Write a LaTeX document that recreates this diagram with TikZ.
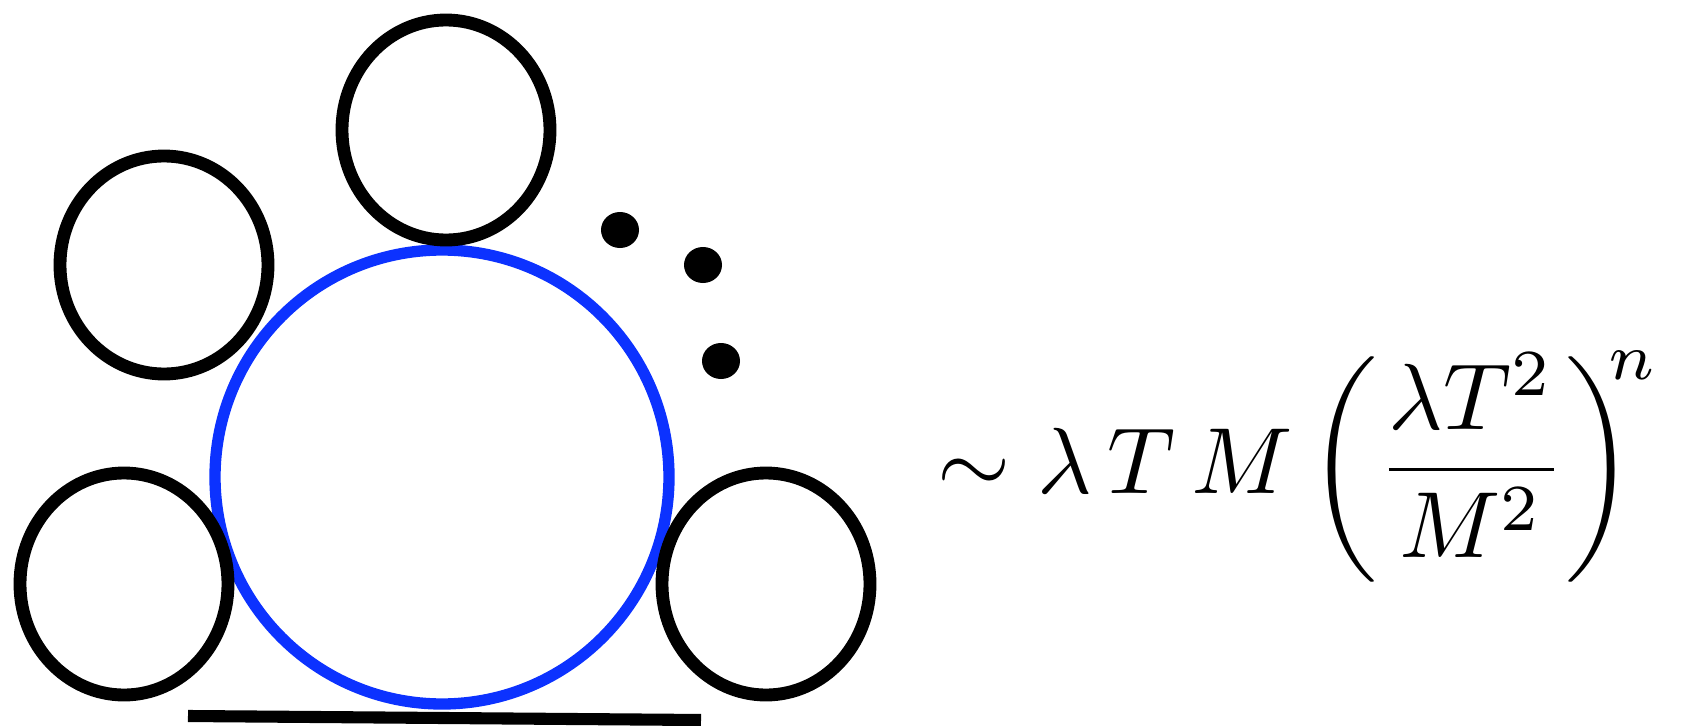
\documentclass[tikz,border=0pt]{standalone}
\usepackage{xcolor}
\usepackage{tikz}
\usetikzlibrary{positioning}

\definecolor{loopblue}{RGB}{12,50,255}

\begin{document}
\begin{tikzpicture}[
    x=0.2647pt, y=-0.2647pt,
    blob/.style={
        draw=black,
        line width=3.4pt
    },
    loopline/.style={
        draw=loopblue,
        line width=3pt
    },
    dotfill/.style={
        fill=black
    }
]

\useasboundingbox (0,0) rectangle (1681,726);

% the big loop
\draw[loopline] (442,477) circle [radius=227];

% blobs round the loop
\draw[blob] (446,130) ellipse [x radius=104, y radius=110];
\draw[blob] (164,265) ellipse [x radius=104, y radius=109];
\draw[blob] (124,584) ellipse [x radius=104, y radius=111];
\draw[blob] (766,584) ellipse [x radius=104, y radius=111];

% dots
\fill[dotfill] (620,230) ellipse [x radius=19, y radius=18];
\fill[dotfill] (703,265) ellipse [x radius=19, y radius=18];
\fill[dotfill] (721,361) ellipse [x radius=19, y radius=18];

% base line
\coordinate (baseL) at (188,716);
\coordinate (baseR) at (701,720);
\draw[line width=3.2pt] (baseL) -- (baseR);

\node[anchor=base west, inner sep=0pt, scale=2.488] (estimate) at (936,493)
    {$\displaystyle \sim \lambda\, T\, M \mkern3mu\bigg(\frac{\lambda T^2}{M^2}\bigg)^{\mkern-6mu n}$};

\end{tikzpicture}
\end{document}
